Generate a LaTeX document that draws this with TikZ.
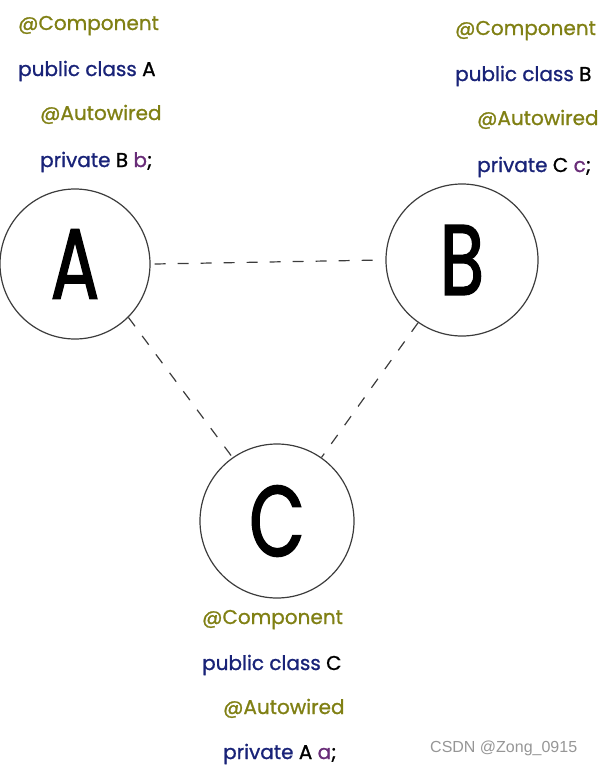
\documentclass[tikz,border=0pt]{standalone}
\usepackage{fontspec}
\setmainfont{Poppins}
\newfontfamily\codefont{Poppins}[FakeBold=1.0]
\newfontfamily\bigfont{Poppins}[FakeBold=1.5,FakeStretch=0.72]
\newfontfamily\wmfont{Liberation Sans}
\definecolor{anno}{RGB}{128,128,20}
\definecolor{kw}{RGB}{25,35,120}
\definecolor{fld}{RGB}{105,45,120}
\definecolor{ring}{RGB}{60,60,60}
\definecolor{wm}{RGB}{150,150,150}
\tikzset{
  bean/.style={circle,draw=ring,line width=1.2pt,minimum size=150pt,inner sep=0pt,font=\bigfont\fontsize{100}{100}\selectfont},
  link/.style={draw=ring,line width=1.2pt,dash pattern=on 11pt off 12pt},
  code/.style={anchor=base west,inner sep=0pt,font=\codefont\fontsize{20}{20}\selectfont},
}
\begin{document}
\begin{tikzpicture}[x=1pt,y=-1pt]
\useasboundingbox (0,0) rectangle (610,766);
\node[bean] (A) at (75,264) {A};
\node[bean,minimum size=152pt] (B) at (462,260) {B};
\node[bean,minimum size=154pt] (C) at (277,521) {C};
\draw[link] ([xshift=4pt]A.east) -- ([xshift=-3pt]B.west);
\draw[link] (A.-45) -- (C.125);
\draw[link] (B.-125) -- (C.55);
% A
\node[code,text=anno] (a1) at (18,30) {@Component};
\node[code,text=kw] (a2) at (18,76) {public class \textcolor{black}{A}};
\node[code,text=anno] (a3) at (40,120) {@Autowired};
\node[code,text=kw] (a4) at (40,167) {private \textcolor{black}{B} \textcolor{fld}{b}\textcolor{black}{;}};
% B
\node[code,text=anno] (b1) at (455,35) {@Component};
\node[code,text=kw] (b2) at (455,81) {public class \textcolor{black}{B}};
\node[code,text=anno] (b3) at (477,125) {@Autowired};
\node[code,text=kw] (b4) at (477,172) {private \textcolor{black}{C} \textcolor{fld}{c}\textcolor{black}{;}};
% C
\node[code,text=anno] (c1) at (202,624) {@Component};
\node[code,text=kw] (c2) at (202,670) {public class \textcolor{black}{C}};
\node[code,text=anno] (c3) at (223,714) {@Autowired};
\node[code,text=kw] (c4) at (223,759) {private \textcolor{black}{A} \textcolor{fld}{a}\textcolor{black}{;}};
\node[anchor=base west,inner sep=0pt,text=wm,font=\wmfont\fontsize{16}{16}\selectfont] (w) at (430,752) {CSDN @Zong\_0915};
\end{tikzpicture}
\end{document}
